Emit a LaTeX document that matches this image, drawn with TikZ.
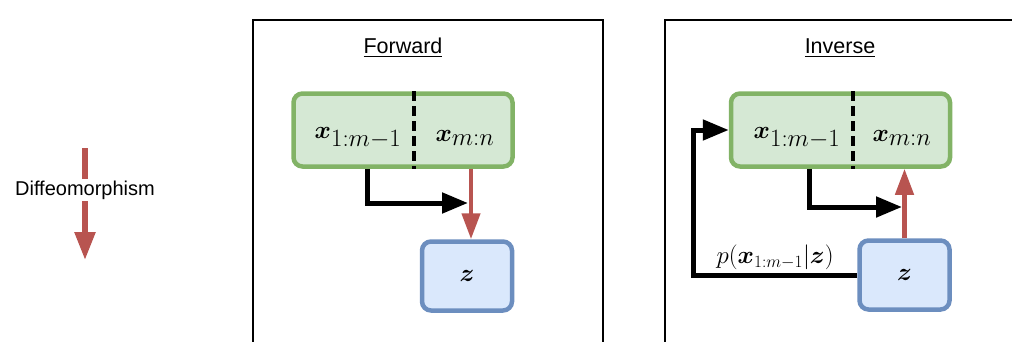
\documentclass[tikz,border=0pt]{standalone}
\usepackage{amsmath,amssymb}
\usepackage{fontspec}
\setsansfont{Liberation Sans}
\usepackage{tikz}
\usetikzlibrary{calc,positioning,arrows.meta}
\definecolor{LeafFill}{HTML}{D5E8D4}
\definecolor{LeafLine}{HTML}{82B366}
\definecolor{SkyFill}{HTML}{DAE8FC}
\definecolor{SkyLine}{HTML}{6C8EBF}
\definecolor{Brick}{HTML}{B85450}

\tikzset{
  panel/.style={draw=black,line width=1.6pt},
  xbox/.style={draw=LeafLine,fill=LeafFill,line width=4.5pt,rounded corners=9pt,minimum width=219pt,minimum height=73pt},
  zbox/.style={draw=SkyLine,fill=SkyFill,line width=4.5pt,rounded corners=9pt,minimum width=90pt,minimum height=69pt},
  vartext/.style={inner sep=0pt,font=\fontsize{36}{40}\selectfont},
  title/.style={font=\sffamily\fontsize{21.5}{24}\selectfont},
  split/.style={line width=3.5pt,dash pattern=on 10pt off 5pt},
  flow/.style={-{Triangle[length=26pt,width=20pt]},line width=5pt},
  warp/.style={-{Triangle[length=26pt,width=18pt]},Brick,line width=4.5pt}
}

\begin{document}
\begin{tikzpicture}[x=1pt,y=1pt]
\useasboundingbox (0,0) rectangle (1012,341);
\clip (0,0) rectangle (1012,341);

% legend
\coordinate (dtop) at (85,193);
\coordinate (dbot) at (85,81);
\draw[-{Triangle[length=28pt,width=20pt]},Brick,line width=5.5pt] (dtop)--(dbot);
\node[font=\sffamily\fontsize{20}{24}\selectfont,fill=white,inner sep=2pt] (diff) at (85,151) {Diffeomorphism};

% forward panel
\draw[panel] (253,-20) -- (253,321) -- (603,321) -- (603,-20);
\node[title] (fwdtitle) at (403,293) {\underline{Forward}};
\node[xbox] (fx) at (403,211) {};
\draw[split] ([xshift=11pt]fx.north)--([xshift=11pt]fx.south);
\node[vartext] (fxa) at (358,203) {$\boldsymbol{x}_{1:m-1}$};
\node[vartext] (fxb) at (465,203) {$\boldsymbol{x}_{m:n}$};
\node[zbox] (fz) at (467,65) {};
\node[vartext] (fzt) at (fz) {$\boldsymbol{z}$};
\coordinate (fjoin) at (468,138);
\draw[flow] ([xshift=-36pt]fx.south) |- (fjoin);
\draw[warp] ([xshift=68pt]fx.south)--([xshift=4pt]fz.north);

% inverse panel
\draw[panel] (665,-20) -- (665,321) -- (1030,321);
\node[title] (invtitle) at (840,293) {\underline{Inverse}};
\node[xbox] (ix) at (840.5,211) {};
\draw[split] ([xshift=12.5pt]ix.north)--([xshift=12.5pt]ix.south);
\node[vartext] (ixa) at (797,203) {$\boldsymbol{x}_{1:m-1}$};
\node[vartext] (ixb) at (902,203) {$\boldsymbol{x}_{m:n}$};
\node[zbox] (iz) at (904.5,66) {};
\node[vartext] (izt) at (iz) {$\boldsymbol{z}$};
\coordinate (ijoin) at (902,134);
\coordinate (ibend) at (693,0);
\draw[flow] ([xshift=-31.5pt]ix.south) |- (ijoin);
\draw[warp] (iz.north)--(iz.north |- ix.south);
\draw[flow] (iz.west)--node[above=3pt,font=\fontsize{24}{27}\selectfont,inner sep=0pt]{$p(\boldsymbol{x}_{1:m-1}|\boldsymbol{z})$} (iz.west -| ibend) |- (ix.west);
\end{tikzpicture}
\end{document}
